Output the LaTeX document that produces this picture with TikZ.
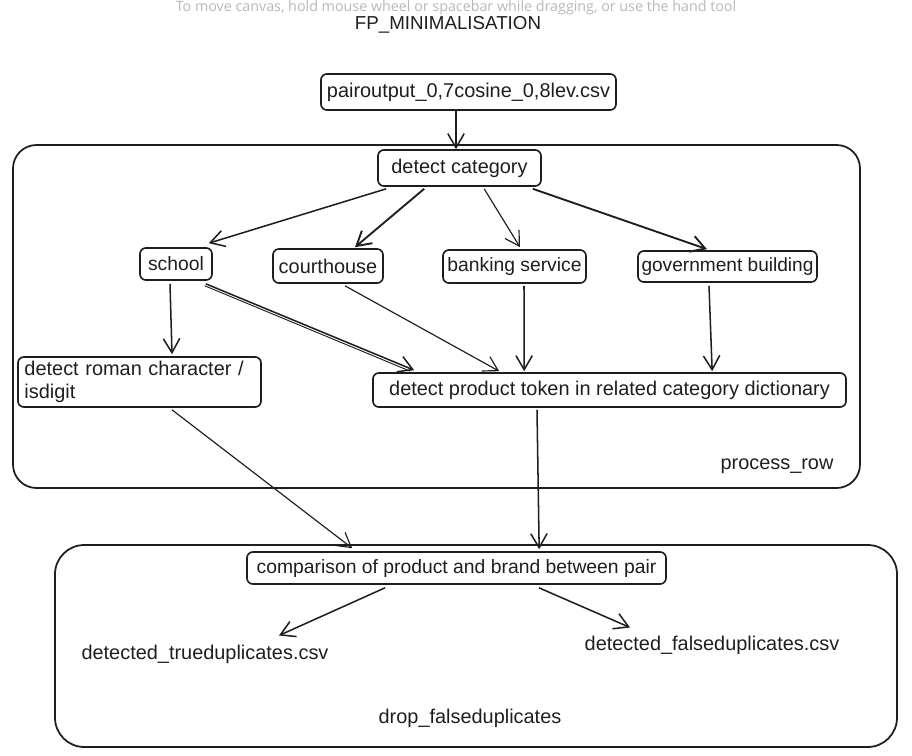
\documentclass[tikz,border=0pt]{standalone}
\usepackage{fontspec}
\setmainfont{Liberation Sans}
\newfontfamily\uifont{Open Sans}
\usetikzlibrary{arrows.meta,calc}
\definecolor{ink}{HTML}{1E1E1E}
\definecolor{hint}{HTML}{B8B8B8}
\tikzset{
  txt/.style={font=\fontsize{17}{20}\selectfont, text=ink, inner sep=0pt},
  box/.style={txt, draw=ink, line width=1.4pt, rounded corners=5pt, align=center},
  frame/.style={draw=ink, line width=1.5pt},
  arr/.style={draw=ink, line width=1.3pt, -{Straight Barb[length=12pt,width=14pt]}},
  thinarr/.style={draw=ink, line width=1.0pt, -{Straight Barb[length=12pt,width=14pt]}},
}
\begin{document}
\begin{tikzpicture}[x=0.03cm,y=-0.03cm]
\useasboundingbox (0,0) rectangle (912,756);
% hint text and title
\node[font=\uifont\fontsize{12.2}{15}\selectfont, text=hint, anchor=base, inner sep=0pt] (hinttext) at (456,12) {To move canvas, hold mouse wheel or spacebar while dragging, or use the hand tool};
\node[txt, font=\fontsize{16}{18}\selectfont, anchor=base] (title) at (448,29.5) {FP\_MINIMALISATION};
% frames
\draw[frame, rounded corners=20] (13,145) rectangle (860,488);
\draw[frame, rounded corners=25] (55,545) rectangle (897,747);
\node[txt] (procrow) at (777,466) {process\_row};
\node[txt] (dropfalse) at (470,718) {drop\_falseduplicates};
% boxes
\node[box, minimum width=8.85cm, minimum height=1.08cm] (pair) at (468.5,92) {pairoutput\_0,7cosine\_0,8lev.csv};
\node[box, minimum width=4.89cm, minimum height=1.08cm] (detcat) at (459.5,168) {detect category};
\node[box, font=\fontsize{16.5}{20}\selectfont, minimum width=2.16cm, minimum height=0.96cm] (school) at (176,264) {school};
\node[box, minimum width=3.30cm, minimum height=1.02cm] (court) at (328,266) {courthouse};
\node[box, font=\fontsize{16.5}{20}\selectfont, minimum width=4.29cm, minimum height=0.99cm] (bank) at (514.5,266.5) {banking service};
\node[box, font=\fontsize{16.3}{20}\selectfont, minimum width=5.37cm, minimum height=0.93cm] (gov) at (727.5,266.5) {government building};
\node[box, minimum width=7.29cm, minimum height=1.5cm, text width=6.9cm, align=left] (roman) at (139.5,382) {detect roman character /\\isdigit};
\node[box, minimum width=14.19cm, minimum height=1.02cm] (prod) at (609.5,390) {detect product token in related category dictionary};
\node[box, font=\fontsize{16.5}{20}\selectfont, minimum width=12.57cm, minimum height=0.96cm] (comp) at (456.5,568) {comparison of product and brand between pair};
\node[txt] (truedup) at (205,654) {detected\_trueduplicates.csv};
\node[txt] (falsedup) at (712,645) {detected\_falseduplicates.csv};
% connectors
\draw[arr] ($(pair.south)+(-12.5,0)$) -- ($(detcat.north)+(-3.5,0)$);
\draw[arr] ($(detcat.south west)+(9,2)$) -- ($(school.north east)+(-4,-4)$);
\draw[arr, line width=1.6pt] ($(detcat.south west)+(47,2)$) -- ($(court.north)+(27,-1)$);
\draw[thinarr] ($(detcat.south west)+(107,2)$) -- ($(bank.north)+(5.5,-2)$);
\draw[arr, line width=1.6pt] ($(detcat.south east)+(-9,2)$) -- ($(gov.north)+(-20.5,-1)$);
\draw[arr] ($(school.south)+(-6,3)$) -- ($(roman.north)+(32.5,-2)$);
\draw[arr] ($(school.south east)+(-7,3)$) -- ($(prod.north west)+(42,-2)$);
\draw[draw=ink, line width=0.8pt] ($(school.south east)+(-8,5)$) -- ($(prod.north west)+(38,-1)$);
\draw[thinarr] ($(court.south)+(17,2)$) -- ($(prod.north west)+(127,-1)$);
\draw[arr] ($(bank.south)+(9.5,2)$) -- ($(prod.north west)+(152,-1)$);
\draw[arr] ($(gov.south)+(-18.5,3)$) -- ($(prod.north west)+(340,-1)$);
\draw[thinarr] ($(roman.south)+(32.5,2)$) -- ($(comp.north west)+(106,-3)$);
\draw[arr] ($(prod.south)+(-72.5,2)$) -- ($(comp.north west)+(293,-2)$);
\draw[arr] ($(comp.south)+(-71.5,3)$) -- ($(truedup.north)+(74,-9)$);
\draw[arr] ($(comp.south)+(82.5,3)$) -- ($(falsedup.north)+(-82,-8)$);
\end{tikzpicture}
\end{document}
